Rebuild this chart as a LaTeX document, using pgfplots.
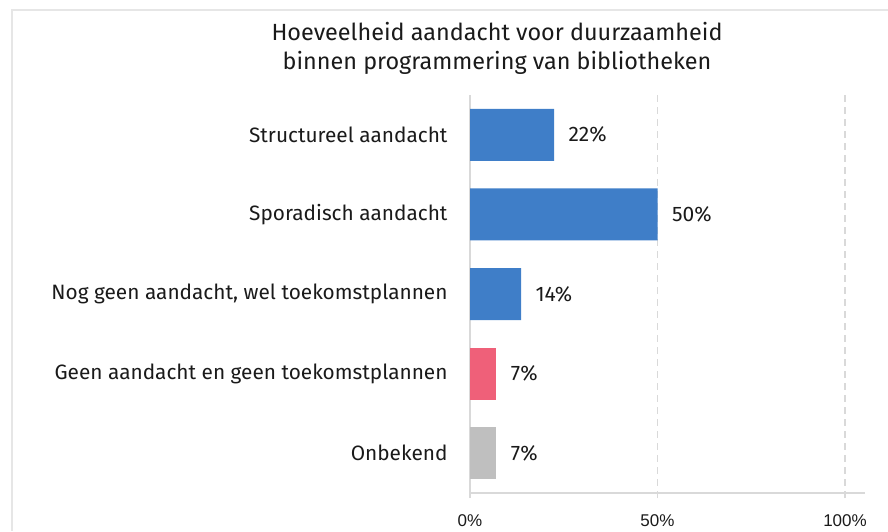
\documentclass[border=0pt]{standalone}
\usepackage{fontspec}
\setmainfont{Fira Sans}
\newfontfamily\arialf{Liberation Sans}
\usepackage{pgfplots}
\pgfplotsset{compat=1.18}
\definecolor{barblue}{HTML}{3F7EC8}
\definecolor{barpink}{HTML}{EF6079}
\definecolor{bargray}{HTML}{BFBFBF}
\definecolor{axgray}{HTML}{D9D9D9}
\definecolor{framegray}{HTML}{E6E6E6}
\definecolor{txt}{HTML}{1A1A1A}
\begin{document}
\begin{tikzpicture}
\path[use as bounding box] (0pt,0pt) rectangle (888pt,531pt);
\draw[framegray, line width=2pt] (11.5pt,0pt) -- (11.5pt,521pt) -- (888pt,521pt);
\node[align=center, font=\fontsize{23.4}{29}\selectfont, text=txt] at (497pt,483pt)
  {Hoeveelheid aandacht voor duurzaamheid\\binnen programmering van bibliotheken};
\begin{axis}[at={(470pt,38pt)}, anchor=south west, scale only axis,
  width=395pt, height=398pt,
  xbar, bar width=52pt, bar shift=0pt,
  xmin=0, xmax=105.33, ymin=-0.5, ymax=4.5, y dir=reverse,
  axis x line*=bottom, axis y line*=left,
  axis line style={axgray, line width=2pt, -},
  xtick={0,50,100}, xticklabels={0\%,50\%,100\%},
  ytick={0,1,2,3,4},
  yticklabels={Structureel aandacht,Sporadisch aandacht,{Nog geen aandacht, wel toekomstplannen},Geen aandacht en geen toekomstplannen,Onbekend},
  major tick length=5pt, tick align=outside,
  tick style={axgray, line width=1.5pt},
  ytick style={draw=none},
  xmajorgrids, grid style={axgray, line width=1.5pt, dash pattern=on 7pt off 5pt},
  xticklabel style={font=\arialf\fontsize{17}{17}\selectfont, text=txt, yshift=-13pt},
  yticklabel style={font=\fontsize{20.8}{20.8}\selectfont, text=txt, xshift=-14pt},
  nodes near coords, point meta=explicit symbolic,
  every node near coord/.append style={font=\fontsize{21}{21}\selectfont, text=txt, anchor=west, xshift=11pt},
]
\addplot[fill=barblue, draw=none] coordinates {(22.4,0) [22\%] (50,1) [50\%] (13.6,2) [14\%]};
\addplot[fill=barpink, draw=none] coordinates {(7,3) [7\%]};
\addplot[fill=bargray, draw=none] coordinates {(7,4) [7\%]};
\end{axis}
\end{tikzpicture}
\end{document}
